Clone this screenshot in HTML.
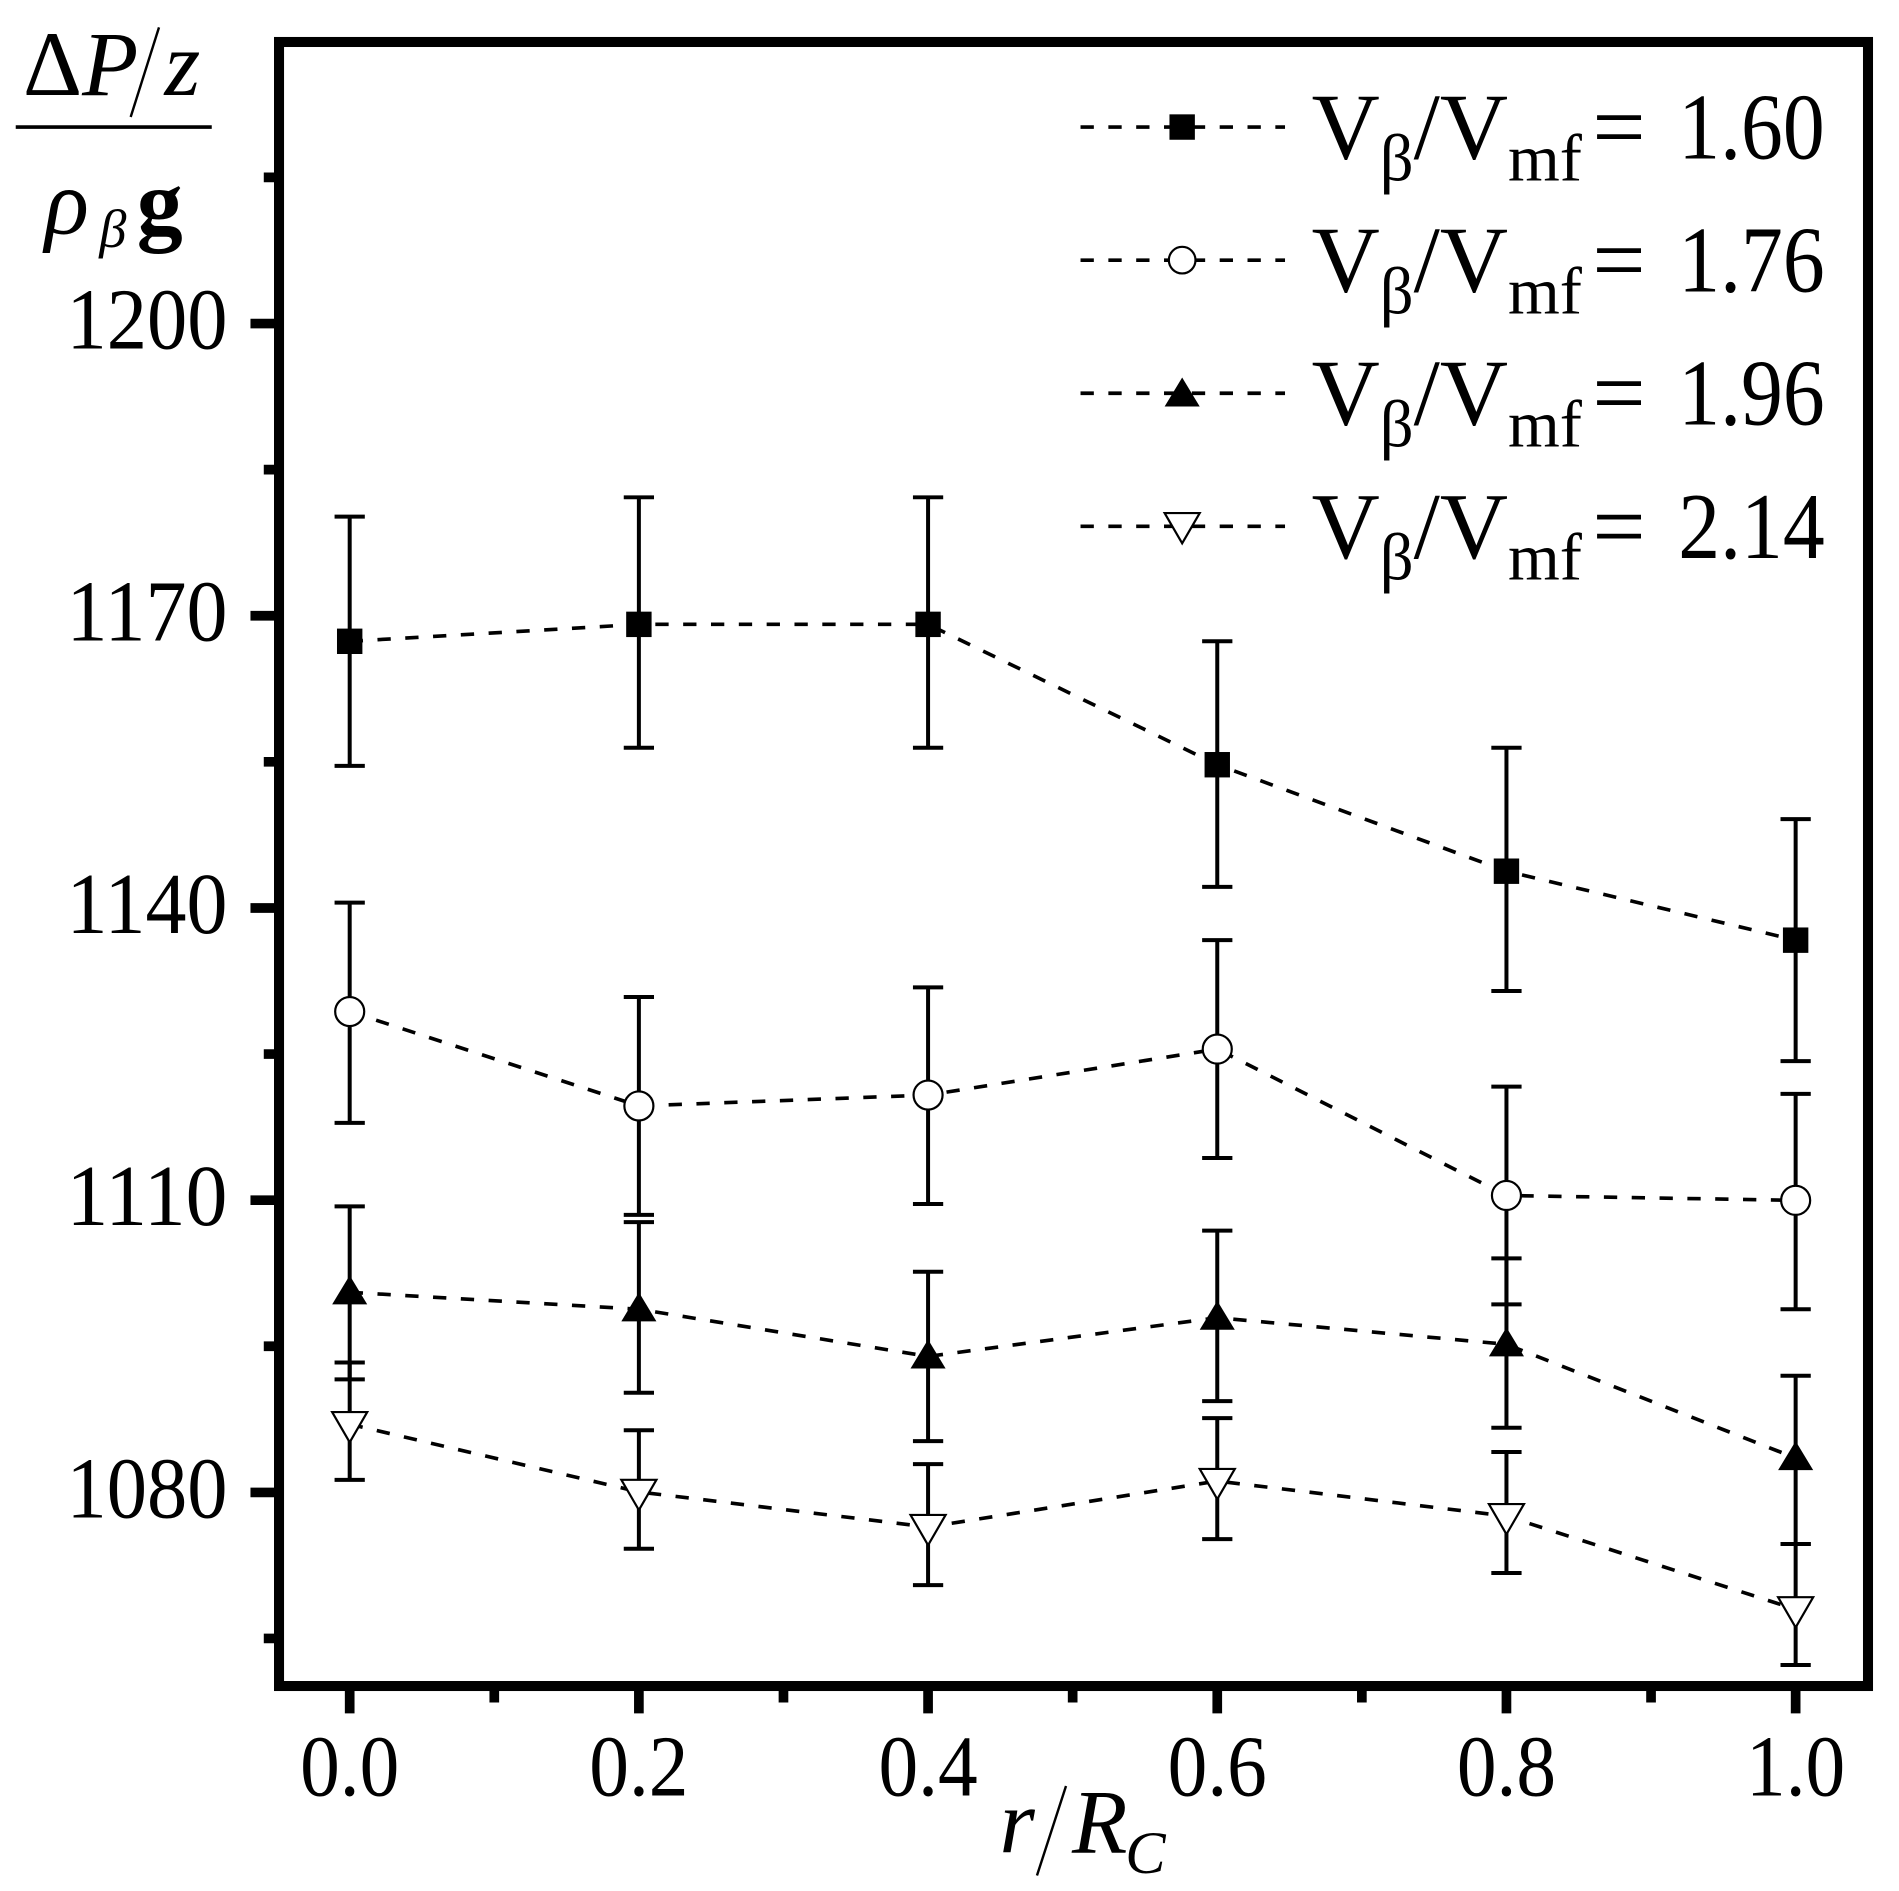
<!DOCTYPE html>
<html><head><meta charset="utf-8"><style>html,body{margin:0;padding:0;background:#fff}svg{display:block}</style></head>
<body>
<svg width="1899" height="1891" viewBox="0 0 1569.42 1562.81" xmlns="http://www.w3.org/2000/svg" font-family="'Liberation Serif', serif" fill="#000">
<rect width="1569.42" height="1562.81" fill="#fff"/>
<g stroke="#000" stroke-width="8">
<path d="M289 1397V1416M528 1397V1416M767 1397V1416M1006 1397V1416M1245 1397V1416M1484 1397V1416"/>
<path d="M408.5 1397V1407M647.5 1397V1407M886.5 1397V1407M1125.5 1397V1407M1364.5 1397V1407"/>
<path d="M207 267.4H227M207 508.9H227M207 750.4H227M207 991.9H227M207 1233.4H227"/>
<path d="M218 146.6H227M218 388.1H227M218 629.6H227M218 871.1H227M218 1112.6H227M218 1354.1H227"/>
</g>
<rect x="230.6" y="34.7" width="1313.2" height="1358.7" fill="none" stroke="#000" stroke-width="8.3"/>
<g fill="none" stroke="#000" stroke-width="3" stroke-dasharray="11 12">
<polyline points="289,530 528,516 767,516 1006,632 1245,720 1484,777"/>
<polyline points="289,836 528,914 767,905 1006,867 1245,988 1484,992"/>
<polyline points="289,1068 528,1082 767,1121 1006,1089 1245,1111 1484,1205"/>
<polyline points="289,1177 528,1233 767,1262 1006,1224 1245,1253 1484,1330"/>
<line x1="893" y1="105" x2="1062" y2="105"/>
<line x1="893" y1="215" x2="1062" y2="215"/>
<line x1="893" y1="325" x2="1062" y2="325"/>
<line x1="893" y1="435" x2="1062" y2="435"/>
</g>
<g fill="none" stroke="#000" stroke-width="3.3">
<path d="M289 427V633M276.5 427h25M276.5 633h25 M528 411V618M515.5 411h25M515.5 618h25 M767 411V618M754.5 411h25M754.5 618h25 M1006 530V733M993.5 530h25M993.5 733h25 M1245 618V819M1232.5 618h25M1232.5 819h25 M1484 677V877M1471.5 677h25M1471.5 877h25"/>
<path d="M289 746V928M276.5 746h25M276.5 928h25 M528 824V1004M515.5 824h25M515.5 1004h25 M767 816V995M754.5 816h25M754.5 995h25 M1006 777V957M993.5 777h25M993.5 957h25 M1245 898V1078M1232.5 898h25M1232.5 1078h25 M1484 904V1082M1471.5 904h25M1471.5 1082h25"/>
<path d="M289 997V1140M276.5 997h25M276.5 1140h25 M528 1010V1151M515.5 1010h25M515.5 1151h25 M767 1051V1191M754.5 1051h25M754.5 1191h25 M1006 1017V1158M993.5 1017h25M993.5 1158h25 M1245 1040V1180M1232.5 1040h25M1232.5 1180h25 M1484 1137V1276M1471.5 1137h25M1471.5 1276h25"/>
<path d="M289 1126V1223M276.5 1126h25M276.5 1223h25 M528 1182V1280M515.5 1182h25M515.5 1280h25 M767 1210V1310M754.5 1210h25M754.5 1310h25 M1006 1172V1272M993.5 1172h25M993.5 1272h25 M1245 1200V1300M1232.5 1200h25M1232.5 1300h25 M1484 1276V1376M1471.5 1276h25M1471.5 1376h25"/>
</g>
<g fill="#000">
<rect x="278.5" y="519.5" width="21" height="21"/><rect x="517.5" y="505.5" width="21" height="21"/><rect x="756.5" y="505.5" width="21" height="21"/><rect x="995.5" y="621.5" width="21" height="21"/><rect x="1234.5" y="709.5" width="21" height="21"/><rect x="1473.5" y="766.5" width="21" height="21"/>
<rect x="966.5" y="94.5" width="21" height="21"/>
</g>
<g fill="#fff" stroke="#000" stroke-width="1.8">
<circle cx="289" cy="836" r="12"/><circle cx="528" cy="914" r="12"/><circle cx="767" cy="905" r="12"/><circle cx="1006" cy="867" r="12"/><circle cx="1245" cy="988" r="12"/><circle cx="1484" cy="992" r="12"/>
<circle cx="977" cy="215" r="11"/>
</g>
<g fill="#000">
<path d="M289 1054l14.5 24h-29z"/><path d="M528 1068l14.5 24h-29z"/><path d="M767 1107l14.5 24h-29z"/><path d="M1006 1075l14.5 24h-29z"/><path d="M1245 1097l14.5 24h-29z"/><path d="M1484 1191l14.5 24h-29z"/>
<path d="M977 312l14.5 24h-29z"/>
</g>
<g fill="#fff" stroke="#000" stroke-width="1.8">
<path d="M274.5 1167h29L289 1192z"/><path d="M513.5 1223h29L528 1248z"/><path d="M752.5 1252h29L767 1277z"/><path d="M991.5 1214h29L1006 1239z"/><path d="M1230.5 1243h29L1245 1268z"/><path d="M1469.5 1320h29L1484 1345z"/>
<path d="M962.5 424h29L977 449z"/>
</g>
<g font-size="72" text-anchor="end">
<text x="188" y="288" textLength="133" lengthAdjust="spacingAndGlyphs">1200</text>
<text x="188" y="529.5" textLength="133" lengthAdjust="spacingAndGlyphs">1170</text>
<text x="188" y="771" textLength="133" lengthAdjust="spacingAndGlyphs">1140</text>
<text x="188" y="1012.5" textLength="133" lengthAdjust="spacingAndGlyphs">1110</text>
<text x="188" y="1254" textLength="133" lengthAdjust="spacingAndGlyphs">1080</text>
</g>
<g font-size="72">
<text x="248" y="1484" textLength="82" lengthAdjust="spacingAndGlyphs">0.0</text>
<text x="487" y="1484" textLength="82" lengthAdjust="spacingAndGlyphs">0.2</text>
<text x="726" y="1484" textLength="82" lengthAdjust="spacingAndGlyphs">0.4</text>
<text x="965" y="1484" textLength="82" lengthAdjust="spacingAndGlyphs">0.6</text>
<text x="1204" y="1484" textLength="82" lengthAdjust="spacingAndGlyphs">0.8</text>
<text x="1443" y="1484" textLength="82" lengthAdjust="spacingAndGlyphs">1.0</text>
</g>
<text x="826" y="1531" font-size="75" font-style="italic">r</text>
<line x1="857" y1="1550" x2="881" y2="1476" stroke="#000" stroke-width="2"/>
<text x="886" y="1531" font-size="75" font-style="italic">R</text>
<text x="930" y="1548" font-size="50" font-style="italic">C</text>
<text x="19" y="78.5" font-size="76">Δ<tspan font-style="italic">P</tspan></text>
<line x1="108" y1="96.7" x2="131.4" y2="22.6" stroke="#000" stroke-width="2"/>
<text x="136" y="78.5" font-size="76" font-style="italic">z</text>
<line x1="13" y1="105" x2="175" y2="105" stroke="#000" stroke-width="3"/>
<text x="37" y="193" font-size="76" font-style="italic">ρ</text>
<text x="82" y="204" font-size="45" font-style="italic">β</text>
<text x="113" y="193" font-size="76" font-weight="bold">g</text>
<g font-size="78">
<text x="1084" y="131">V<tspan font-size="55" dy="18">β</tspan><tspan dy="-18">/V</tspan><tspan font-size="55" dy="18">mf</tspan></text>
<text x="1316" y="131">=</text><text x="1387" y="131" textLength="121" lengthAdjust="spacingAndGlyphs">1.60</text>
<text x="1084" y="241">V<tspan font-size="55" dy="18">β</tspan><tspan dy="-18">/V</tspan><tspan font-size="55" dy="18">mf</tspan></text>
<text x="1316" y="241">=</text><text x="1387" y="241" textLength="121" lengthAdjust="spacingAndGlyphs">1.76</text>
<text x="1084" y="351">V<tspan font-size="55" dy="18">β</tspan><tspan dy="-18">/V</tspan><tspan font-size="55" dy="18">mf</tspan></text>
<text x="1316" y="351">=</text><text x="1387" y="351" textLength="121" lengthAdjust="spacingAndGlyphs">1.96</text>
<text x="1084" y="461">V<tspan font-size="55" dy="18">β</tspan><tspan dy="-18">/V</tspan><tspan font-size="55" dy="18">mf</tspan></text>
<text x="1316" y="461">=</text><text x="1387" y="461" textLength="121" lengthAdjust="spacingAndGlyphs">2.14</text>
</g>
</svg>
</body></html>
